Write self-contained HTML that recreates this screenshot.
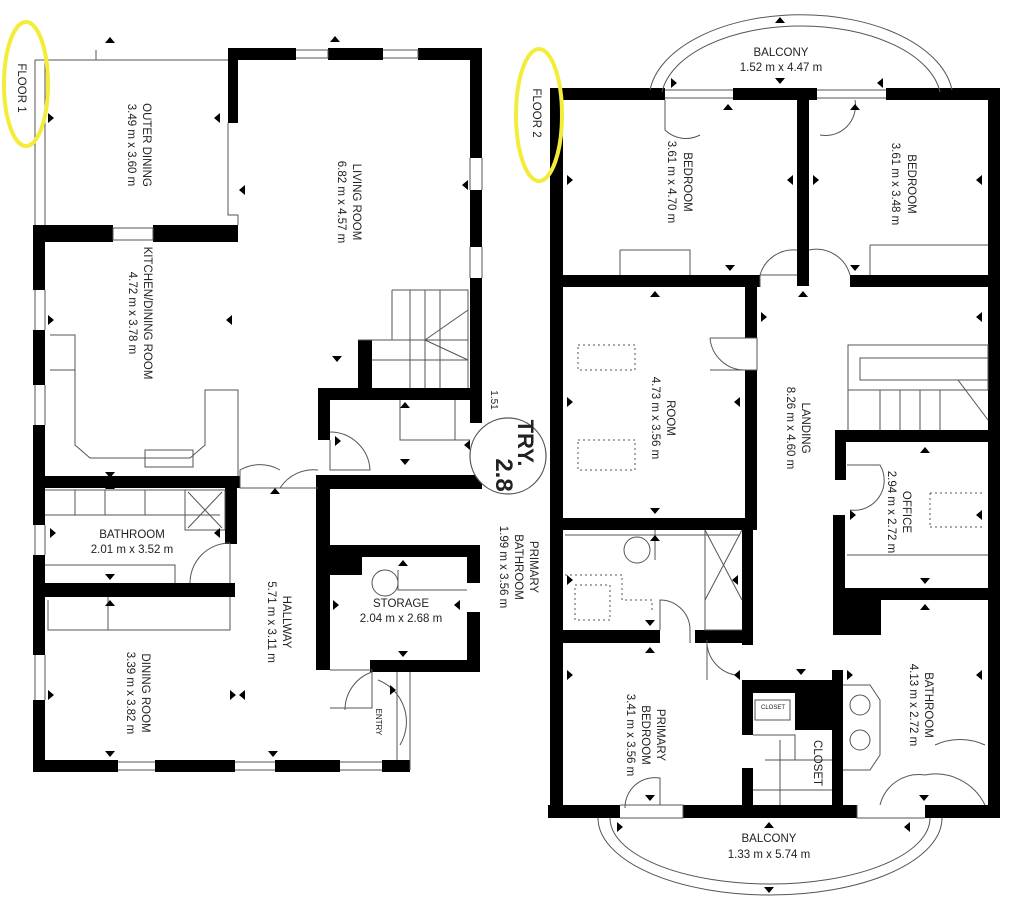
<!DOCTYPE html>
<html><head><meta charset="utf-8"><style>
html,body{margin:0;padding:0;background:#fff;width:1030px;height:902px;overflow:hidden}
svg{display:block}
text{font-family:"Liberation Sans","DejaVu Sans",sans-serif;fill:#222}
</style></head><body>
<svg width="1030" height="902" viewBox="0 0 1030 902" xmlns="http://www.w3.org/2000/svg">
<g fill="#000">
<rect x="228" y="48" width="68" height="12"/>
<rect x="328" y="48" width="55" height="12"/>
<rect x="418" y="48" width="64" height="12"/>
<rect x="228" y="48" width="10" height="75"/>
<rect x="470" y="48" width="12" height="110"/>
<rect x="470" y="190" width="12" height="57"/>
<rect x="470" y="278" width="12" height="145"/>
<rect x="33" y="225" width="80" height="17"/>
<rect x="153" y="225" width="85" height="17"/>
<rect x="33" y="225" width="12" height="65"/>
<rect x="33" y="330" width="12" height="55"/>
<rect x="33" y="425" width="12" height="100"/>
<rect x="33" y="555" width="12" height="100"/>
<rect x="33" y="700" width="12" height="72"/>
<rect x="358" y="340" width="14" height="50"/>
<rect x="318" y="388" width="164" height="12"/>
<rect x="318" y="388" width="12" height="52"/>
<rect x="33" y="476" width="207" height="12"/>
<rect x="318" y="475" width="164" height="14"/>
<rect x="225" y="476" width="12" height="68"/>
<rect x="33" y="583" width="202" height="14"/>
<rect x="316" y="475" width="14" height="195"/>
<rect x="330" y="545" width="150" height="12"/>
<rect x="330" y="545" width="32" height="30"/>
<rect x="467" y="545" width="13" height="38"/>
<rect x="467" y="612" width="13" height="60"/>
<rect x="370" y="660" width="110" height="12"/>
<rect x="33" y="760" width="85" height="12"/>
<rect x="155" y="760" width="80" height="12"/>
<rect x="275" y="760" width="65" height="12"/>
<rect x="382" y="760" width="28" height="12"/>
<rect x="550" y="88" width="115" height="12"/>
<rect x="733" y="88" width="84" height="12"/>
<rect x="886" y="88" width="114" height="12"/>
<rect x="550" y="88" width="13" height="730"/>
<rect x="988" y="88" width="12" height="730"/>
<rect x="797" y="88" width="12" height="198"/>
<rect x="550" y="275" width="210" height="12"/>
<rect x="850" y="275" width="150" height="12"/>
<rect x="745" y="275" width="12" height="63"/>
<rect x="745" y="370" width="12" height="160"/>
<rect x="550" y="518" width="205" height="12"/>
<rect x="742" y="518" width="11" height="127"/>
<rect x="550" y="630" width="110" height="13"/>
<rect x="695" y="630" width="58" height="13"/>
<rect x="835" y="430" width="165" height="12"/>
<rect x="835" y="430" width="11" height="50"/>
<rect x="833" y="515" width="12" height="120"/>
<rect x="833" y="588" width="167" height="12"/>
<rect x="833" y="600" width="48" height="35"/>
<rect x="742" y="680" width="101" height="13"/>
<rect x="795" y="680" width="38" height="50"/>
<rect x="742" y="680" width="11" height="55"/>
<rect x="742" y="768" width="11" height="40"/>
<rect x="832" y="670" width="11" height="148"/>
<rect x="548" y="805" width="72" height="13"/>
<rect x="683" y="805" width="174" height="13"/>
<rect x="925" y="805" width="75" height="13"/>
</g>
<g fill="none" stroke="#555" stroke-width="1">
<path d="M35 60H228M35 60V225M45 60V225M96 50V60H228"/>
<path d="M228 123V215H238V225"/>
<path d="M35 290V330M45 290V330M35 385V425M45 385V425M35 525V555M45 525V555M35 655V700M45 655V700"/>
<path d="M113 228H153V240H113Z M470 158V190M482 158V190M470 247V278M482 247V278"/>
<path d="M296 50H328V58H296 M383 50H418V58H383"/>
<path d="M392 290H468V388 M392 290V340H358 M410 290V388 M425 290V388 M440 290V388 M372 340H468 M372 360H468 M425 340L468 310 M425 340L468 360"/>
<path d="M400 400V440H455V400 M410 440H470"/>
<path d="M50 335H75V370H50 M75 370V445L90 458H190L205 445V390H238V476"/>
<path d="M145 450H193V467H145Z"/>
<path d="M240 476V488H318 M240 488V470A40 40 0 0 1 280 470 M280 488A40 40 0 0 1 318 470"/>
<path d="M330 440V470H370A40 40 0 0 0 330 432"/>
<path d="M45 490H225 M45 515H220 M75 490V515 M105 490V515 M145 490V515 M185 490V530H225 M185 490H225V530 M188 492L222 528 M222 492L188 528"/>
<path d="M45 565H175V583 M190 583A40 40 0 0 1 230 543 M230 543V583"/>
<path d="M48 600V630H230V597 M108 597V630"/>
<path d="M330 670H372V708H330 M372 672A40 40 0 0 0 345 710 M378 680A45 45 0 0 1 400 745 M397 672V760M410 672V770"/>
<path d="M118 762H155M118 770H155M235 762H275M235 770H275M340 762H382M340 770H382"/>
<path d="M398 570V590H467"/>
<circle cx="385" cy="583" r="13"/>
<path d="M665 90H733M665 98H733M817 90H886M817 98H886"/>
<path d="M620 250H690V275 M620 250V275 M870 245H988 M870 245V275"/>
<path d="M665 100V130A30 30 0 0 0 700 135 M855 100A30 30 0 0 1 820 135"/>
<path d="M760 287V275H797 M760 275A35 35 0 0 1 797 250 M809 250A35 35 0 0 1 850 275"/>
<path d="M710 338H757V370H710 M710 338A35 35 0 0 0 745 370"/>
<path d="M848 345H988V390H848Z M860 358H988V380H860Z M848 390V430 M880 390V430 M900 390V430M920 390V430M940 390V430M958 380L988 420"/>
<path d="M578 345H635V370H578Z M578 440H635V470H578Z" stroke-dasharray="2 3"/>
<path d="M565 535H740 M655 530V560 M705 530V630H742 M705 530L742 600 M742 530L705 600"/>
<circle cx="637" cy="550" r="13"/>
<path d="M565 575H622V600H652V610 M575 585H610V620H575Z" stroke-dasharray="2 3"/>
<path d="M660 630V600A30 30 0 0 1 690 630V643"/>
<path d="M847 465H880A30 30 0 0 1 850 510 M847 555H988"/>
<path d="M930 493H985 M930 527H985 M930 493V527" stroke-dasharray="2 3"/>
<path d="M707 640V680 M707 645A35 35 0 0 0 735 675"/>
<path d="M843 685H870L880 700V755L870 770H843"/>
<circle cx="860" cy="705" r="10"/><circle cx="860" cy="740" r="10"/>
<path d="M753 735H795V760 M755 700H790V720H755Z M753 790H832 M765 760H832 M780 740V805"/>
<path d="M620 805H683V818H620 M625 808A30 30 0 0 1 660 778V805"/>
<path d="M857 805V818H925 M880 805A40 40 0 0 1 925 775 M925 775A55 55 0 0 1 985 805 M935 745A60 60 0 0 1 985 745"/>
<path d="M650 90A152 85 0 0 1 952 90 M662 92A140 75 0 0 1 940 92"/>
<path d="M598 818A172 77 0 0 0 942 818 M610 818A160 66 0 0 0 930 818"/>
</g>
<circle cx="508" cy="456" r="38" fill="#fff" stroke="#555" stroke-width="1.2"/>
<ellipse cx="26" cy="84" rx="22" ry="62" fill="none" stroke="#f4ec3a" stroke-width="4"/>
<ellipse cx="539" cy="115" rx="23" ry="66" fill="none" stroke="#f4ec3a" stroke-width="4"/>
<g fill="#000">
<path d="M110 37l5 6h-10z M335 36l5 6h-10z M48 113l6 5-6 5z M220 113l-6 5 6 5z M245 185l-6 5 6 5z M462 185l6-5 0 10z M48 315l6 5-6 5z M232 315l-6 5 6 5z M110 478l5-6h-10z M110 483l5 6h-10z M337 362l5-6h-10z M405 402l5 6h-10z M405 465l5-6h-10z M470 440l-6 5 6 5z M335 436l6 5-6 5z M50 528l6 5-6 5z M220 528l-6 5 6 5z M275 488l5 6h-10z M110 580l5-6h-10z M110 600l5 6h-10z M48 690l6 5-6 5z M230 690l6 5-6 5 M245 690l-6 5 6 5z M110 757l5-6h-10z M273 757l5-6h-10z M403 560l5 6h-10z M333 600l6 5-6 5z M460 600l-6 5 6 5z M403 657l5-6h-10z M390 685l6 5-6 5z"/>
<path d="M780 17l5 6h-10z M780 84l5-6h-10z M671 78l6 5-6 5z M883 78l-6 5 6 5z M567 175l6 5-6 5z M793 175l-6 5 6 5z M813 175l6 5-6 5z M982 175l-6 5 6 5z M728 104l5 6h-10z M855 104l5 6h-10z M730 271l5-6h-10z M855 271l5-6h-10z M655 291l5 6h-10z M803 291l5 6h-10z M567 397l6 5-6 5z M740 397l-6 5 6 5z M761 312l6 5-6 5z M982 312l-6 5 6 5z M655 514l5-6h-10z M655 535l5 6h-10z M567 575l6 5-6 5z M738 575l-6 5 6 5z M650 626l5-6h-10z M650 647l5 6h-10z M567 670l6 5-6 5z M740 670l-6 5 6 5z M801 675l5-6h-10z M847 670l6 5-6 5z M982 670l-6 5 6 5z M650 801l5-6h-10z M924 801l5-6h-10z M769 822l5 6h-10z M617 822l6 5-6 5z M910 822l-6 5 6 5z M769 893l5-6h-10z M925 447l5 6h-10z M925 584l5-6h-10z M925 604l5 6h-10z M982 510l-6 5 6 5z M850 510l6 5-6 5z"/>
</g>
<g font-size="11.5">
<text transform="translate(18,88) rotate(90)" text-anchor="middle">FLOOR 1</text>
<text transform="translate(143,145) rotate(90)" text-anchor="middle">OUTER DINING</text>
<text transform="translate(128,145) rotate(90)" text-anchor="middle">3.49 m x 3.60 m</text>
<text transform="translate(353,202) rotate(90)" text-anchor="middle">LIVING ROOM</text>
<text transform="translate(338,202) rotate(90)" text-anchor="middle">6.82 m x 4.57 m</text>
<text transform="translate(144,313) rotate(90)" text-anchor="middle">KITCHEN/DINING ROOM</text>
<text transform="translate(129,313) rotate(90)" text-anchor="middle">4.72 m x 3.78 m</text>
<text x="132" y="538" text-anchor="middle">BATHROOM</text>
<text x="132" y="553" text-anchor="middle">2.01 m x 3.52 m</text>
<text transform="translate(283,622) rotate(90)" text-anchor="middle">HALLWAY</text>
<text transform="translate(268,622) rotate(90)" text-anchor="middle">5.71 m x 3.11 m</text>
<text transform="translate(142,693) rotate(90)" text-anchor="middle">DINING ROOM</text>
<text transform="translate(127,693) rotate(90)" text-anchor="middle">3.39 m x 3.82 m</text>
<text x="401" y="607" text-anchor="middle">STORAGE</text>
<text x="401" y="622" text-anchor="middle">2.04 m x 2.68 m</text>
<text transform="translate(376,722) rotate(90)" text-anchor="middle" font-size="8">ENTRY</text>
<text transform="translate(491,400) rotate(90)" text-anchor="middle" font-size="10">1.51</text>
<text transform="translate(518,443) rotate(90)" text-anchor="middle" font-size="22" font-weight="bold" fill="#333">TRY.</text>
<text transform="translate(496,475) rotate(90)" text-anchor="middle" font-size="24" font-weight="bold" fill="#333">2.8</text>
<text transform="translate(530,567) rotate(90)" text-anchor="middle">PRIMARY</text>
<text transform="translate(515,567) rotate(90)" text-anchor="middle">BATHROOM</text>
<text transform="translate(500,567) rotate(90)" text-anchor="middle">1.99 m x 3.56 m</text>
<text transform="translate(533,113) rotate(90)" text-anchor="middle">FLOOR 2</text>
<text x="781" y="56" text-anchor="middle">BALCONY</text>
<text x="781" y="71" text-anchor="middle">1.52 m x 4.47 m</text>
<text transform="translate(684,182) rotate(90)" text-anchor="middle">BEDROOM</text>
<text transform="translate(668,182) rotate(90)" text-anchor="middle">3.61 m x 4.70 m</text>
<text transform="translate(908,184) rotate(90)" text-anchor="middle">BEDROOM</text>
<text transform="translate(892,184) rotate(90)" text-anchor="middle">3.61 m x 3.48 m</text>
<text transform="translate(667,418) rotate(90)" text-anchor="middle">ROOM</text>
<text transform="translate(652,418) rotate(90)" text-anchor="middle">4.73 m x 3.56 m</text>
<text transform="translate(802,428) rotate(90)" text-anchor="middle">LANDING</text>
<text transform="translate(787,428) rotate(90)" text-anchor="middle">8.26 m x 4.60 m</text>
<text transform="translate(903,512) rotate(90)" text-anchor="middle">OFFICE</text>
<text transform="translate(888,512) rotate(90)" text-anchor="middle">2.94 m x 2.72 m</text>
<text transform="translate(925,705) rotate(90)" text-anchor="middle">BATHROOM</text>
<text transform="translate(910,705) rotate(90)" text-anchor="middle">4.13 m x 2.72 m</text>
<text transform="translate(657,735) rotate(90)" text-anchor="middle">PRIMARY</text>
<text transform="translate(642,735) rotate(90)" text-anchor="middle">BEDROOM</text>
<text transform="translate(627,735) rotate(90)" text-anchor="middle">3.41 m x 3.56 m</text>
<text x="773" y="709" text-anchor="middle" font-size="6">CLOSET</text>
<text transform="translate(814,763) rotate(90)" text-anchor="middle">CLOSET</text>
<text x="769" y="842" text-anchor="middle">BALCONY</text>
<text x="769" y="858" text-anchor="middle">1.33 m x 5.74 m</text>
</g>
</svg>
</body></html>
